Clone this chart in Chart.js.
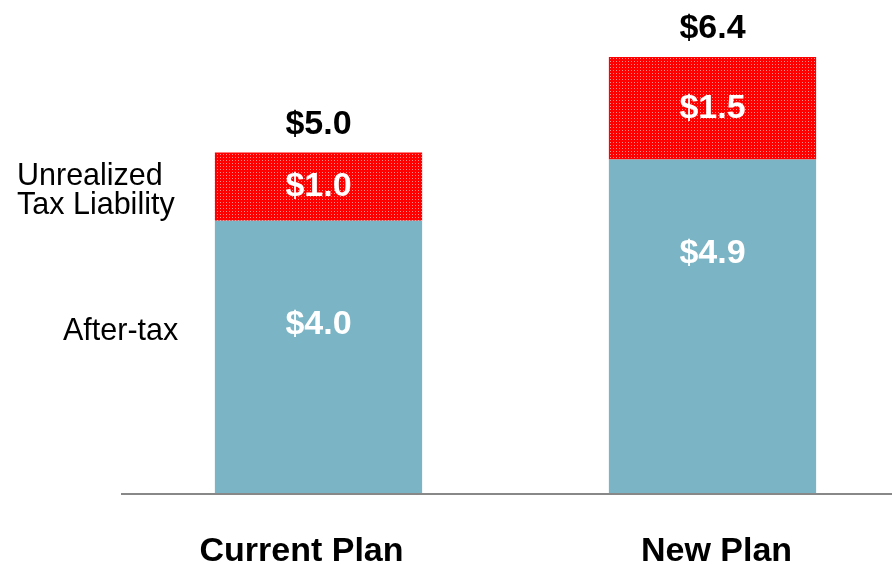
<!DOCTYPE html>
<html>
<head>
<meta charset="utf-8">
<script src="https://cdn.jsdelivr.net/npm/chart.js@4/dist/chart.umd.min.js"></script>
<style>
    html, body { margin: 0; padding: 0; background: #fff; overflow: hidden; }
    #wrap { width: 892px; height: 564px; overflow: hidden; }
</style>
</head>
<body>
<div id="wrap"><canvas id="planChart" width="912" height="564"></canvas></div>
<script>
const categories = ['Current Plan', 'New Plan'];
const afterTax = [4.0, 4.9];
const taxLiability = [1.0, 1.5];
const totals = afterTax.map((v, i) => v + taxLiability[i]);

const FONT = "Arial, 'Liberation Sans', sans-serif";
const TEAL = '#7bb4c4';
const RED = '#ff0000';

function makePattern() {
    const c = document.createElement('canvas');
    c.width = 3; c.height = 3;
    const x = c.getContext('2d');
    x.fillStyle = RED; x.fillRect(0, 0, 3, 3);
    x.fillStyle = '#ff8c8c'; x.fillRect(1, 1, 1, 1);
    return x.createPattern(c, 'repeat');
}

const fmt = v => '$' + v.toFixed(1);

const labelPlugin = {
    id: 'labels',
    afterDatasetsDraw(chart) {
        const ctx = chart.ctx;
        const xs = chart.scales.x;
        const teal = chart.getDatasetMeta(0).data;
        const red = chart.getDatasetMeta(1).data;
        const tealOffset = [104, 94];
        const catShift = [-17, 4];
        ctx.save();
        ctx.textAlign = 'center';
        ctx.textBaseline = 'middle';
        ctx.font = 'bold 34px ' + FONT;
        ctx.fillStyle = '#fff';
        teal.forEach((b, i) => ctx.fillText(fmt(afterTax[i]), b.x, b.y + tealOffset[i]));
        red.forEach((b, i) => ctx.fillText(fmt(taxLiability[i]), b.x, (b.y + b.base) / 2));
        ctx.fillStyle = '#000';
        ctx.textBaseline = 'alphabetic';
        red.forEach((b, i) => ctx.fillText(fmt(totals[i]), b.x, b.y - 19));
        // category names under the axis
        categories.forEach((c, i) => ctx.fillText(c, xs.getPixelForValue(i) + catShift[i], chart.chartArea.bottom + 67));
        // side labels
        ctx.font = '30.5px ' + FONT;
        ctx.textAlign = 'left';
        ctx.fillText('Unrealized', 17, 185);
        ctx.fillText('Tax Liability', 17, 214);
        ctx.fillText('After-tax', 63, 340);
        ctx.restore();
    }
};

new Chart(document.getElementById('planChart'), {
    type: 'bar',
    data: {
        labels: categories,
        datasets: [
            { label: 'After-tax', data: afterTax, backgroundColor: TEAL },
            { label: 'Unrealized Tax Liability', data: taxLiability, backgroundColor: makePattern() }
        ]
    },
    options: {
        responsive: false,
        animation: false,
        layout: { padding: { left: 121.5, right: 2.5, top: 16, bottom: 70 } },
        datasets: { bar: { barPercentage: 1, categoryPercentage: 0.526, borderWidth: 0 } },
        plugins: { legend: { display: false }, tooltip: { enabled: false } },
        scales: {
            x: {
                stacked: true,
                grid: { display: false, drawTicks: false },
                border: { display: true, color: '#888', width: 2, z: 1 },
                ticks: { display: false }
            },
            y: {
                stacked: true, display: false, min: 0, max: 7
            }
        }
    },
    plugins: [labelPlugin]
});
</script>
</body>
</html>
